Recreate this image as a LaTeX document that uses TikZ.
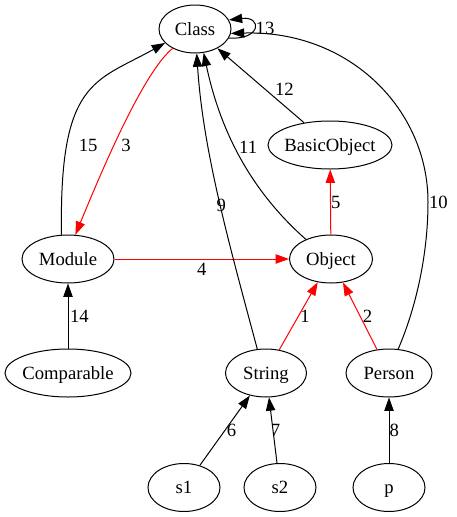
\documentclass[tikz,border=0pt]{standalone}
\usepackage{fontspec}
\setmainfont{Liberation Serif}
\usetikzlibrary{arrows.meta,shapes.geometric,positioning}
\tikzset{
  cls/.style={ellipse, draw, line width=1pt, minimum height=48pt,
    inner xsep=-6pt, inner ysep=0pt, text height=16pt, text depth=4pt},
  lbl/.style={inner sep=1.5pt, text=black},
  arr/.style={line width=1pt, -{Triangle[length=13.3pt,width=9.3pt]}},
}
\begin{document}
\begin{tikzpicture}[x=1pt,y=1pt,font=\rmfamily\fontsize{18.67}{22}\selectfont]
\useasboundingbox (0,0) rectangle (457,-517);
\node[cls, minimum width=72pt] (Class) at (195,-29) {Class};
\node[cls, minimum width=124pt] (BasicObject) at (330,-145) {BasicObject};
\node[cls, minimum width=92pt] (Module) at (68,-259) {Module};
\node[cls, minimum width=83pt] (Object) at (331,-259) {Object};
\node[cls, minimum width=126pt] (Comparable) at (68,-373) {Comparable};
\node[cls, minimum width=81pt] (String) at (266,-373) {String};
\node[cls, minimum width=86pt] (Person) at (389,-373) {Person};
\node[cls, minimum width=72pt] (s1) at (184,-487.5) {s1};
\node[cls, minimum width=72pt] (s2) at (280,-487.5) {s2};
\node[cls, minimum width=72pt] (p) at (389,-487.5) {p};
% superclass links
\draw[arr,red] (String) -- node[lbl,right] {1} (Object);
\draw[arr,red] (Person) -- node[lbl,right=1pt] {2} (Object);
\draw[arr,red] (Class.221) .. controls (143,-72) and (100,-175) .. node[lbl,pos=.58,right=5.5pt] {3} (Module.73);
\draw[arr,red] (Module) -- node[lbl,below=2pt] {4} (Object);
\draw[arr,red] (Object) -- node[lbl,right,inner sep=0pt] {5} (BasicObject);
% class links
\draw[arr] (s1) -- node[lbl,right] {6} (String);
\draw[arr] (s2) -- node[lbl,xshift=2.5pt] {7} (String);
\draw[arr] (p) -- node[lbl,right,inner sep=0pt] {8} (Person);
\draw[arr] (String.110) .. controls (228,-240) and (203,-150) .. node[lbl,pos=.47,xshift=1pt] {9} (Class.274);
\draw[arr] (Person.69) .. controls (415,-310) and (428,-257) .. (428,-202) node[lbl,right,inner sep=.5pt] {10}
  .. controls (428,-110) and (350,-30) .. (Class.353);
\draw[arr] (Object.142) .. controls (250,-190) and (220,-130) .. node[lbl,pos=.55,right=2pt] {11} (Class.290);
\draw[arr] (BasicObject) -- node[lbl,pos=.45,right=8pt] {12} (Class);
\draw[arr] (Class.345) .. controls (262,-40) and (262,-16) .. node[lbl,right] {13} (Class.15);
\draw[arr] (Comparable) -- node[lbl,right] {14} (Module);
\draw[arr] (Module.105) .. controls (59,-80) and (95,-82) .. node[lbl,pos=.25,right=10pt] {15} (Class.205);
\end{tikzpicture}
\end{document}
